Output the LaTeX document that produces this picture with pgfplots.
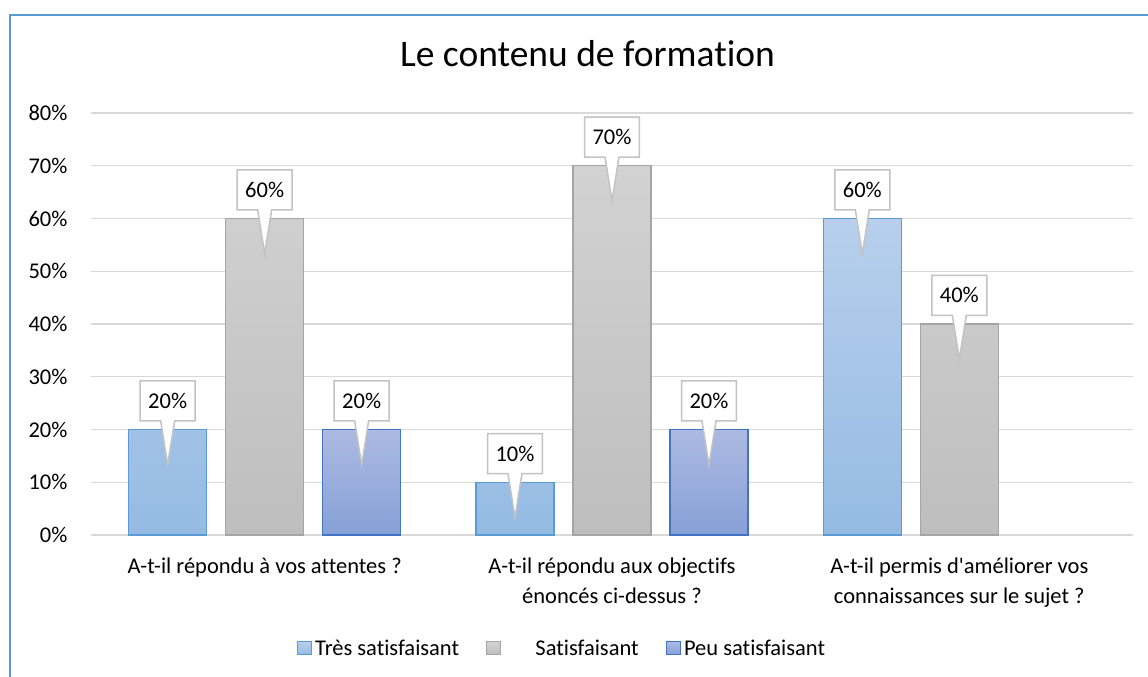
\documentclass[border=0pt]{standalone}
\usepackage{fontspec}
\setmainfont{Carlito}[Ligatures={NoCommon,NoContextual}]
\usepackage{pgfplots}
\pgfplotsset{compat=1.18}
\usetikzlibrary{shapes.callouts}
\definecolor{b1top}{RGB}{183,207,236}
\definecolor{b1bot}{RGB}{149,187,227}
\definecolor{b1edge}{RGB}{91,155,213}
\definecolor{b2top}{RGB}{210,210,210}
\definecolor{b2bot}{RGB}{190,190,190}
\definecolor{b2edge}{RGB}{165,165,165}
\definecolor{b3top}{RGB}{172,186,226}
\definecolor{b3bot}{RGB}{135,160,215}
\definecolor{b3edge}{RGB}{68,114,196}
\definecolor{gridc}{RGB}{217,217,217}
\definecolor{calloutc}{RGB}{195,195,195}
\definecolor{framec}{RGB}{91,155,213}
\newcommand{\fs}{\fontsize{22.5bp}{30bp}\selectfont}
\begin{document}
\begin{tikzpicture}
\path[use as bounding box, fill=white] (-91bp,-142bp) rectangle (1057bp,535bp);
\draw[framec, line width=2.2bp] (-81bp,-160bp) -- (-81bp,520bp) -- (1070bp,520bp);
\node[font=\fontsize{37.5bp}{40bp}\selectfont, anchor=base] at (496.5bp,468bp) {Le contenu de formation};
\begin{axis}[
  scale only axis, width=1042bp, height=422bp,
  xmin=-0.5, xmax=2.5, ymin=0, ymax=80,
  ybar=19bp, bar width=78bp,
  xtick={0,1,2},
  xticklabels={{A-t-il répondu à vos attentes ?},{A-t-il répondu aux objectifs\\énoncés ci-dessus ?},{A-t-il permis d\textquotesingle{}améliorer vos\\connaissances sur le sujet ?}},
  ytick={0,10,...,80},
  yticklabel={\pgfmathprintnumber{\tick}\%},
  /pgf/number format/assume math mode=true,
  ymajorgrids, grid style={gridc, line width=1.3bp},
  axis x line*=bottom, axis y line*=left,
  y axis line style={draw=none},
  x axis line style={-, draw=gridc, line width=1.3bp},
  major tick length=0pt,
  tick style={draw=none},
  tick label style={font=\fs},
  yticklabel style={xshift=-20bp},
  xticklabel style={align=center, yshift=-19bp},
  nodes near coords={\pgfmathprintnumber{\pgfplotspointmeta}\%},
  every node near coord/.append style={font=\fs, text=black, shape=rectangle callout, draw=calloutc, line width=1.5bp, fill=white, minimum height=40bp, inner xsep=8bp, yshift=8bp, callout relative pointer={(0bp,-44bp)}, callout pointer width=14bp},
  legend columns=3,
  legend style={draw=none, font=\fs, at={(axis description cs:0.4525,-0.268)}, anchor=center,
    /tikz/every even column/.append style={column sep=24bp},
    nodes={inner xsep=3bp}},
  legend image code/.code={\draw[#1] (0bp,-6.5bp) rectangle (14bp,6.5bp);},
  clip=false,
]
\addplot[top color=b1top, bottom color=b1bot, draw=b1edge, line width=1.3bp] coordinates {(0,20) (1,10) (2,60)};
\addplot[top color=b2top, bottom color=b2bot, draw=b2edge, line width=1.3bp] coordinates {(0,60) (1,70) (2,40)};
\addplot[top color=b3top, bottom color=b3bot, draw=b3edge, line width=1.3bp] coordinates {(0,20) (1,20)};
\legend{Très satisfaisant,\hspace*{31bp}Satisfaisant,Peu satisfaisant}
\end{axis}
\end{tikzpicture}
\end{document}
